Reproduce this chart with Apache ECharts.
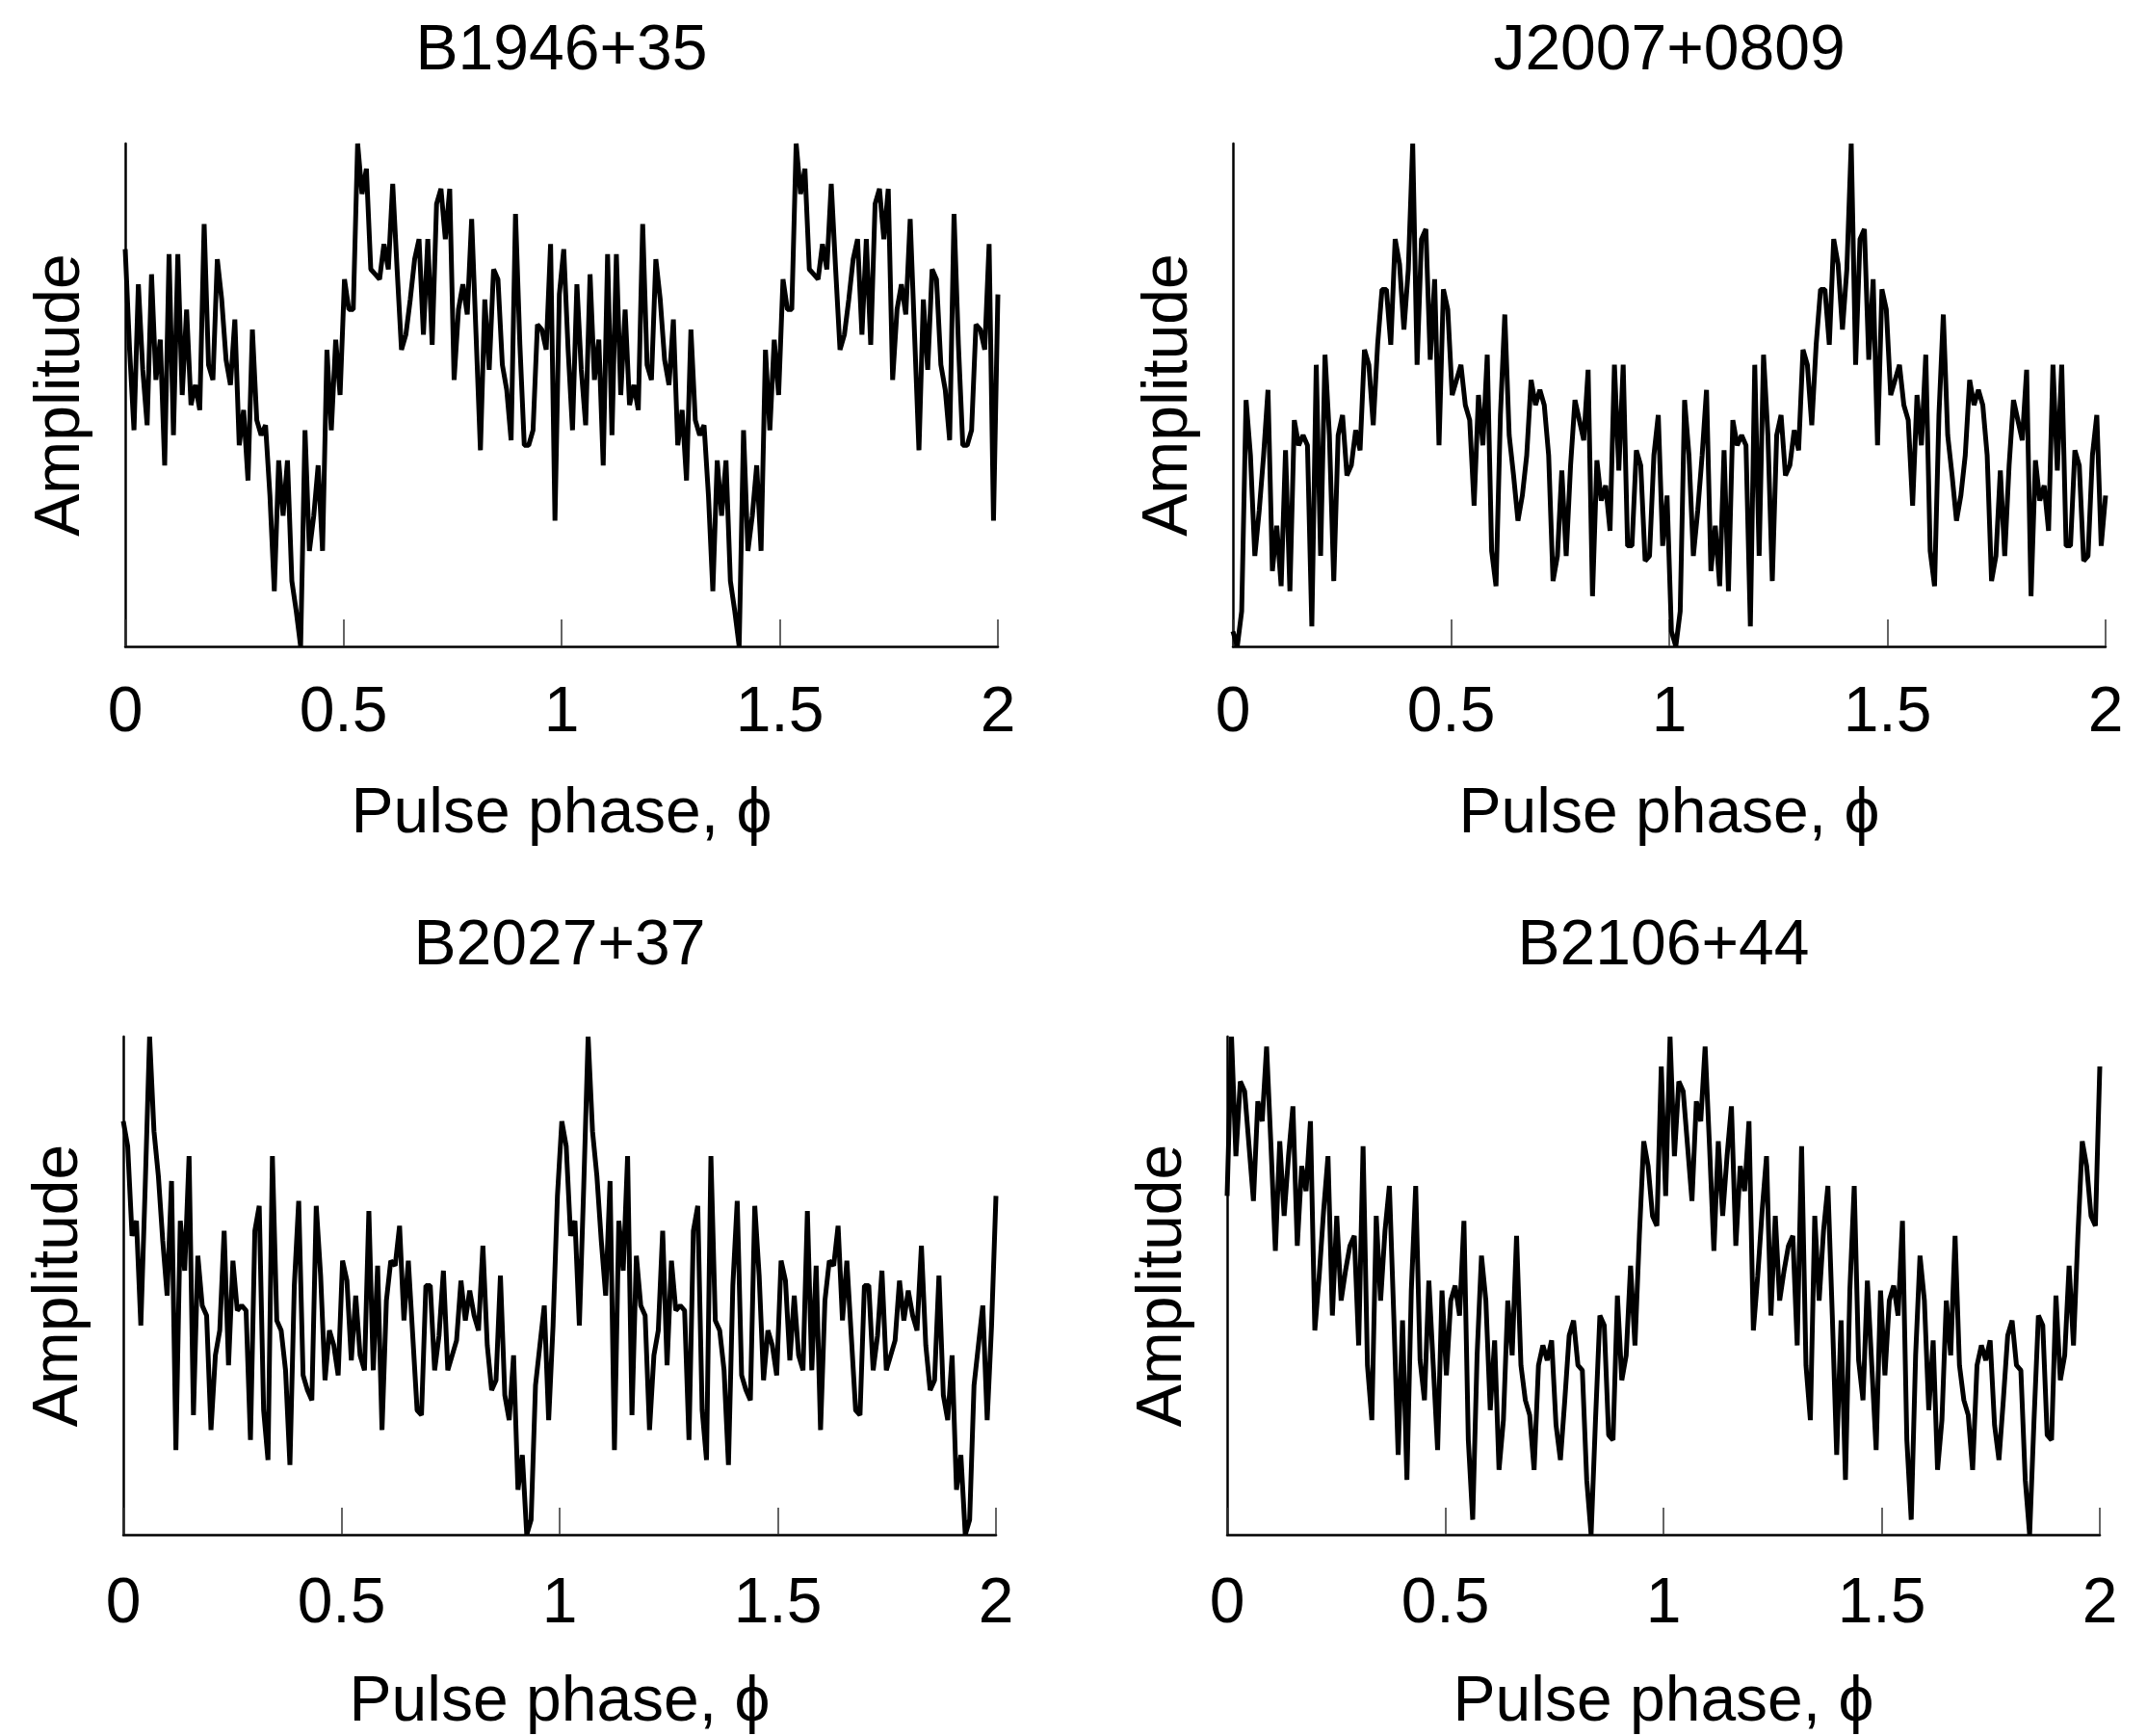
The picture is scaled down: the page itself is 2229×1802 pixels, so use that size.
<!DOCTYPE html>
<html>
<head>
<meta charset="utf-8">
<script src="https://cdn.jsdelivr.net/npm/echarts@6/dist/echarts.min.js"></script>
<style>
html,body{margin:0;padding:0;background:#ffffff;}
#chart{width:2229px;height:1802px;}
</style>
</head>
<body>
<div id="chart"></div>
<script>
// Panel titles (pulsar names)
const titles = ['B1946+35', 'J2007+0809', 'B2027+37', 'B2106+44'];
// x tick labels
const tickLabels = ['0', '0.5', '1', '1.5', '2'];
const xAxisName = 'Pulse phase, \u03D5';
const yAxisName = 'Amplitude';

// One rotation (100 phase bins) of each normalised profile; the plot shows two rotations.
const b1946 = [
  0.79,0.59,0.43,0.72,0.55,0.44,0.74,0.53,0.61,0.36,
  0.78,0.42,0.78,0.50,0.67,0.48,0.52,0.47,0.84,0.56,
  0.53,0.77,0.69,0.57,0.52,0.65,0.40,0.47,0.33,0.63,
  0.45,0.42,0.44,0.30,0.11,0.37,0.26,0.37,0.13,0.07,
  0.00,0.43,0.19,0.26,0.36,0.19,0.59,0.43,0.61,0.50,
  0.73,0.67,0.67,1.00,0.90,0.95,0.75,0.74,0.73,0.80,
  0.75,0.92,0.75,0.59,0.62,0.69,0.77,0.81,0.62,0.81,
  0.60,0.88,0.91,0.81,0.91,0.53,0.67,0.72,0.66,0.85,
  0.62,0.39,0.69,0.55,0.75,0.73,0.56,0.51,0.41,0.86,
  0.60,0.40,0.40,0.43,0.64,0.63,0.59,0.80,0.25,0.70
];
const j2007 = [
  0.03,0.00,0.07,0.49,0.38,0.18,0.27,0.38,0.51,0.15,
  0.24,0.12,0.39,0.11,0.45,0.40,0.42,0.40,0.04,0.56,
  0.18,0.58,0.42,0.13,0.42,0.46,0.34,0.36,0.43,0.39,
  0.59,0.56,0.44,0.60,0.71,0.71,0.60,0.81,0.76,0.63,
  0.75,1.00,0.56,0.81,0.83,0.57,0.73,0.40,0.71,0.67,
  0.50,0.53,0.56,0.48,0.45,0.28,0.50,0.40,0.58,0.19,
  0.12,0.46,0.66,0.42,0.34,0.25,0.30,0.38,0.53,0.48,
  0.51,0.48,0.38,0.13,0.18,0.35,0.18,0.36,0.49,0.45,
  0.41,0.55,0.10,0.37,0.29,0.32,0.23,0.56,0.35,0.56,
  0.20,0.20,0.39,0.36,0.17,0.18,0.38,0.46,0.20,0.30
];
const b2027 = [
  0.83,0.78,0.60,0.63,0.42,0.70,1.00,0.81,0.72,0.59,
  0.48,0.71,0.17,0.63,0.53,0.76,0.24,0.56,0.46,0.44,
  0.21,0.36,0.41,0.61,0.34,0.55,0.45,0.46,0.45,0.19,
  0.61,0.66,0.25,0.15,0.76,0.43,0.41,0.33,0.14,0.50,
  0.67,0.32,0.29,0.27,0.66,0.52,0.31,0.41,0.38,0.32,
  0.55,0.51,0.35,0.48,0.36,0.33,0.65,0.33,0.54,0.21,
  0.47,0.55,0.54,0.62,0.43,0.55,0.40,0.25,0.24,0.50,
  0.50,0.33,0.40,0.53,0.33,0.36,0.39,0.51,0.43,0.49,
  0.44,0.41,0.58,0.38,0.29,0.31,0.52,0.28,0.23,0.36,
  0.09,0.16,0.00,0.03,0.30,0.38,0.46,0.23,0.42,0.68
];
const b2106 = [
  0.68,1.00,0.76,0.91,0.89,0.78,0.67,0.87,0.83,0.98,
  0.78,0.57,0.79,0.64,0.76,0.86,0.58,0.74,0.69,0.83,
  0.41,0.52,0.65,0.76,0.44,0.64,0.47,0.53,0.58,0.60,
  0.38,0.78,0.34,0.23,0.64,0.47,0.61,0.70,0.44,0.16,
  0.43,0.11,0.49,0.70,0.35,0.27,0.51,0.34,0.17,0.49,
  0.32,0.47,0.50,0.44,0.63,0.19,0.03,0.36,0.56,0.47,
  0.25,0.39,0.13,0.23,0.47,0.36,0.60,0.34,0.27,0.24,
  0.13,0.34,0.38,0.35,0.39,0.22,0.15,0.27,0.40,0.43,
  0.34,0.33,0.11,0.00,0.23,0.44,0.42,0.20,0.19,0.48,
  0.31,0.36,0.54,0.38,0.60,0.79,0.74,0.64,0.62,0.94
];
const profiles = [b1946, j2007, b2027, b2106];

// layout of the four panels (pixels)
const panels = [
  {left:130,  top:149,  width:906, height:522, titleOff:128, labelMargin:37, nameGap:142},
  {left:1280, top:149,  width:906, height:522, titleOff:128, labelMargin:37, nameGap:142},
  {left:128,  top:1076, width:906, height:522, titleOff:126, labelMargin:40, nameGap:142},
  {left:1274, top:1076, width:906, height:522, titleOff:126, labelMargin:40, nameGap:142}
];

const FONT = '"Liberation Sans", Arial, Helvetica, sans-serif';
const FS = 66;

// two rotations over phase 0..2
function twoRotations(p) {
  const all = p.concat(p);
  const n = all.length;
  return all.map((v, i) => [2 * i / (n - 1), v]);
}

const option = {
  backgroundColor: '#ffffff',
  animation: false,
  title: panels.map((g, i) => ({
    text: titles[i],
    left: g.left + g.width / 2,
    top: g.top - g.titleOff,
    textAlign: 'center',
    padding: 0,
    textStyle: {fontFamily: FONT, fontSize: FS, fontWeight: 'normal', color: '#000'}
  })),
  grid: panels.map(g => ({left: g.left, top: g.top, width: g.width, height: g.height, containLabel: false})),
  xAxis: panels.map((g, i) => ({
    type: 'value', gridIndex: i, min: 0, max: 2, interval: 0.5,
    name: xAxisName, nameLocation: 'middle', nameGap: g.nameGap,
    nameTextStyle: {fontFamily: FONT, fontSize: FS, color: '#000'},
    axisLine: {show: true, onZero: false, lineStyle: {color: '#000', width: 2.5}},
    axisTick: {show: true, inside: true, length: 28, lineStyle: {color: '#333', width: 1.5}},
    axisLabel: {show: true, margin: g.labelMargin, fontFamily: FONT, fontSize: FS, color: '#000',
      formatter: v => tickLabels[Math.round(v / 0.5)]},
    splitLine: {show: false}
  })),
  yAxis: panels.map((g, i) => ({
    type: 'value', gridIndex: i, min: 0, max: 1,
    name: yAxisName, nameLocation: 'middle', nameGap: 33,
    nameTextStyle: {fontFamily: FONT, fontSize: FS, color: '#000'},
    axisLine: {show: true, onZero: false, lineStyle: {color: '#000', width: 2.5}},
    axisTick: {show: false},
    axisLabel: {show: false},
    splitLine: {show: false}
  })),
  series: profiles.map((p, i) => ({
    type: 'line', xAxisIndex: i, yAxisIndex: i,
    data: twoRotations(p),
    showSymbol: false, symbol: 'none',
    lineStyle: {color: '#000', width: 5},
    clip: false
  }))
};

const chart = echarts.init(document.getElementById('chart'), null, {renderer: 'canvas'});
chart.setOption(option);
</script>
</body>
</html>
